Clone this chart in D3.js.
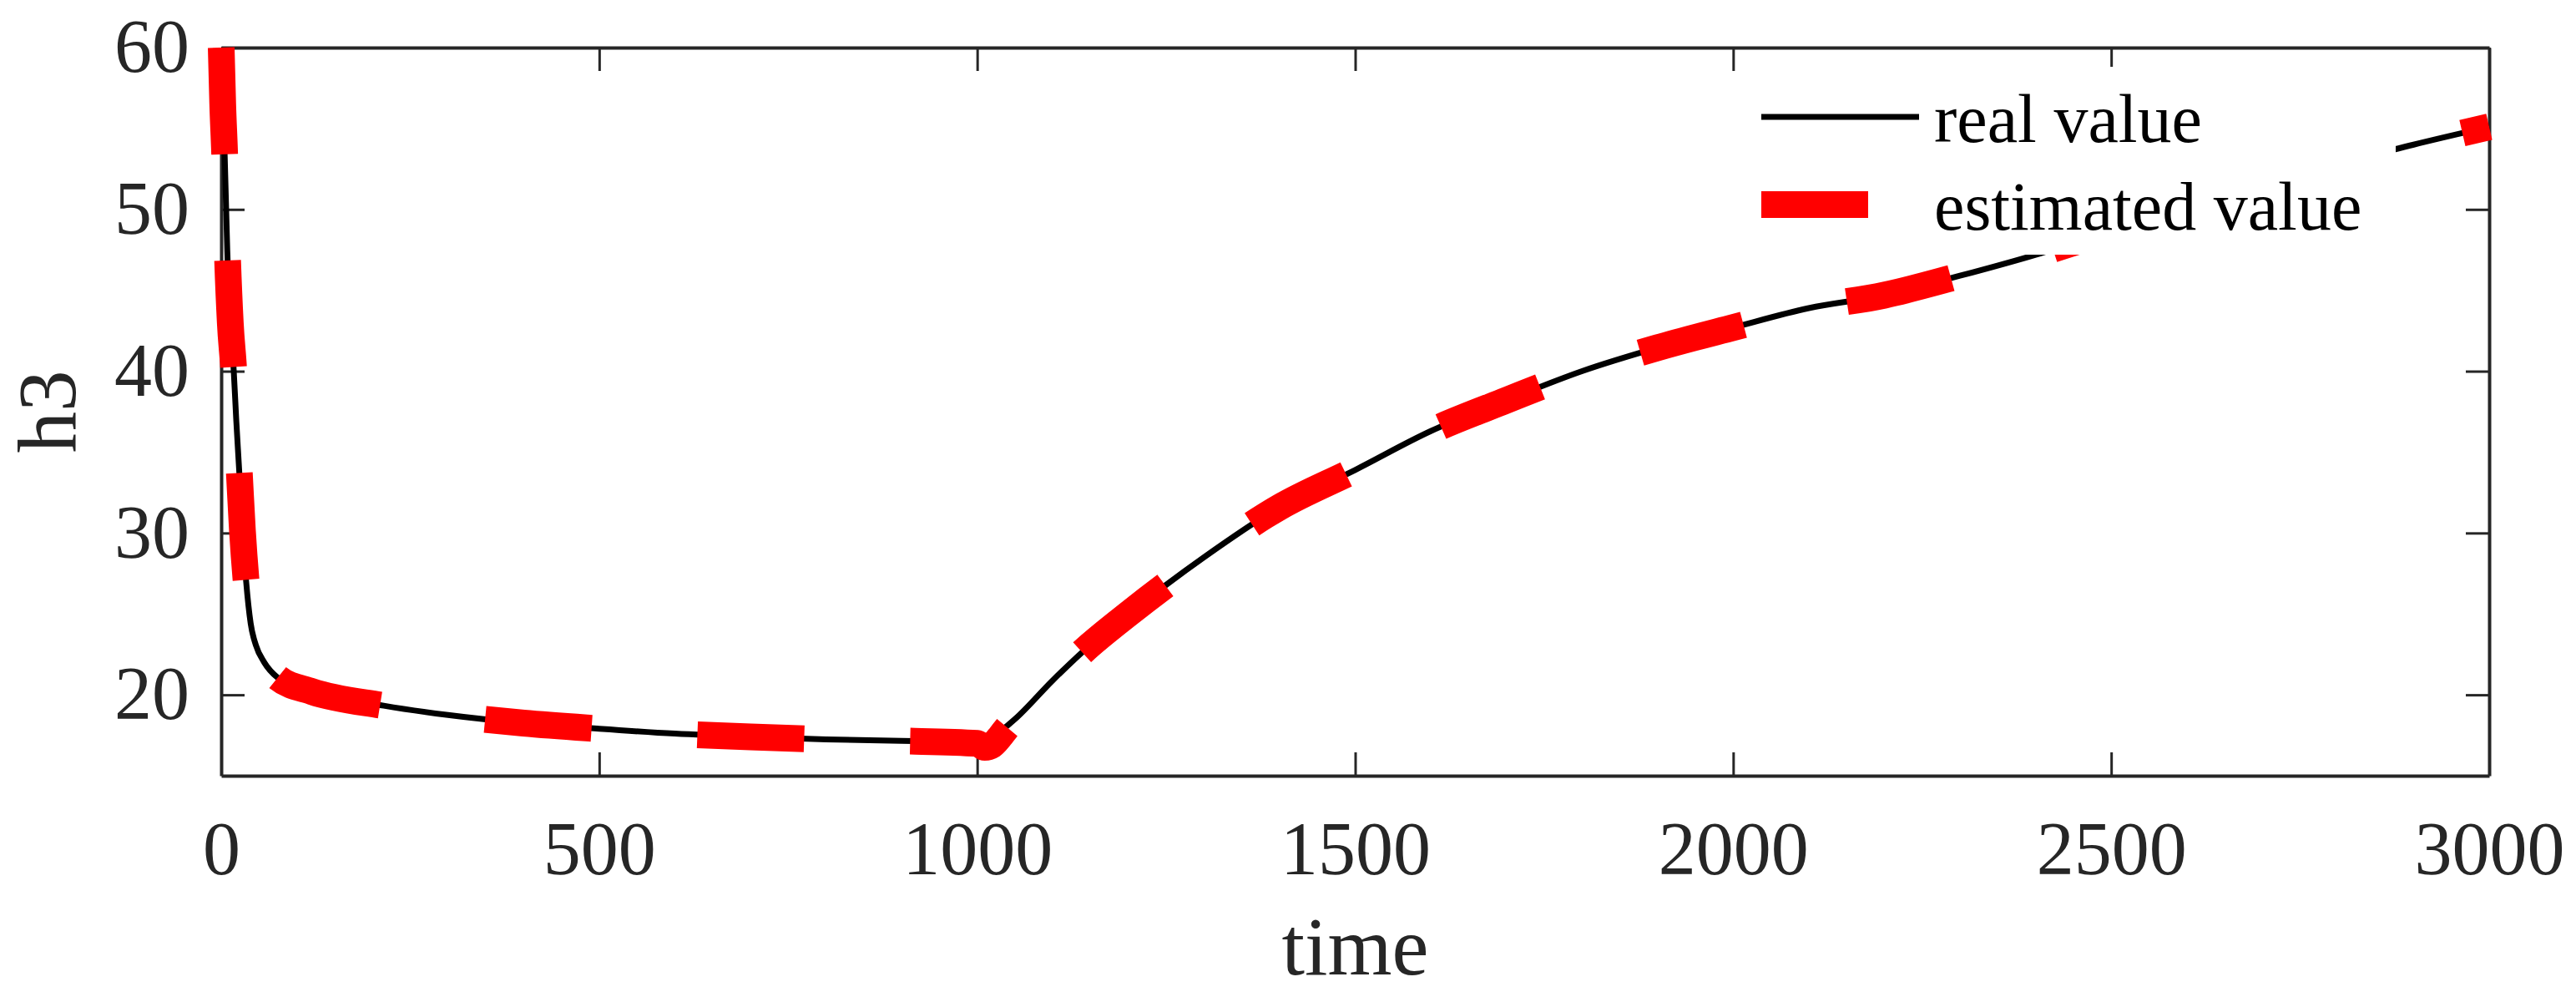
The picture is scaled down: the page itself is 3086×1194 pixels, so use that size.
<!DOCTYPE html>
<html>
<head>
<meta charset="utf-8">
<script src="https://cdn.jsdelivr.net/npm/d3@7"></script>
<style>
  body { margin: 0; background: #fff; }
  svg { display: block; font-family: "Liberation Serif", "Times New Roman", serif; }
</style>
</head>
<body>
<svg width="3086" height="1194"></svg>
<script>
// values
const timeVals = [0, 2, 4.5, 8, 12, 16.5, 20, 24, 28, 33, 39, 46, 57, 75, 120, 215, 300, 400, 500, 600, 700, 800, 900,
  1000, 1010, 1020, 1030, 1040, 1050, 1100, 1150, 1200, 1250, 1300, 1400, 1500, 1600, 1700, 1800, 1900,
  2000, 2100, 2200, 2300, 2400, 2500, 2600, 2700, 2800, 2900, 3000];
const realVals = [60, 56.5, 53.5, 47.5, 43, 40.1, 36.9, 33.7, 30.2, 27.0, 24.4, 23.05, 22.0, 21.05, 20.2, 19.33, 18.75, 18.25, 17.9, 17.6, 17.4, 17.25, 17.15,
  17.1, 17.25, 17.45, 17.75, 18.1, 18.5, 20.9, 23.1, 25.0, 26.8, 28.5, 31.6, 33.9, 36.3, 38.2, 40.0, 41.45,
  42.7, 43.9, 44.7, 45.9, 47.2, 48.7, 50.2, 51.6, 52.8, 54.0, 55.1];
const estVals = [60, 56.5, 53.5, 47.5, 43, 40.1, 36.9, 33.7, 30.2, 27.0, 24.4, 23.05, 22.0, 21.05, 20.2, 19.33, 18.75, 18.25, 17.9, 17.6, 17.4, 17.25, 17.15,
  17.0, 16.75, 16.9, 17.4, 18.0, 18.5, 20.9, 23.1, 25.0, 26.8, 28.5, 31.6, 33.9, 36.3, 38.2, 40.0, 41.45,
  42.7, 43.9, 44.7, 45.9, 47.2, 48.7, 50.2, 51.6, 52.8, 54.0, 55.1];
const xTicks = [0, 500, 1000, 1500, 2000, 2500, 3000];
const yTicks = [20, 30, 40, 50, 60];
const seriesNames = ["real value", "estimated value"];

const svg = d3.select("svg");
const margin = { top: 57, right: 104, bottom: 265, left: 265 };
const width = +svg.attr("width") - margin.left - margin.right;
const height = +svg.attr("height") - margin.top - margin.bottom;
const axisColor = "#262626";

const x = d3.scaleLinear().domain([0, 3000]).range([0, width]);
const y = d3.scaleLinear().domain([15, 60]).range([height, 0]);

const g = svg.append("g").attr("transform", `translate(${margin.left},${margin.top})`);

const styleAxis = sel => {
  sel.select(".domain").attr("stroke", axisColor).attr("stroke-width", 4);
  sel.selectAll(".tick line").attr("stroke", axisColor).attr("stroke-width", 3);
  sel.selectAll(".tick text").attr("fill", axisColor).attr("font-size", 90);
};

g.append("g")
  .attr("transform", `translate(0,${height})`)
  .call(d3.axisBottom(x).tickValues(xTicks).tickFormat(d3.format("d"))
    .tickSizeInner(-28).tickSizeOuter(0).tickPadding(54))
  .call(styleAxis)
  .attr("font-family", null);

g.append("g")
  .call(d3.axisTop(x).tickValues(xTicks).tickSizeInner(-28).tickSizeOuter(0).tickFormat(""))
  .call(styleAxis);

g.append("g")
  .call(d3.axisLeft(y).tickValues(yTicks).tickFormat(d3.format("d"))
    .tickSizeInner(-28).tickSizeOuter(0).tickPadding(38))
  .call(styleAxis)
  .attr("font-family", null);

g.append("g")
  .attr("transform", `translate(${width},0)`)
  .call(d3.axisRight(y).tickValues(yTicks).tickSizeInner(-28).tickSizeOuter(0).tickFormat(""))
  .call(styleAxis);

// axis titles
g.append("text")
  .attr("x", width / 2)
  .attr("y", 1167 - margin.top)
  .attr("text-anchor", "middle")
  .attr("font-size", 99)
  .attr("fill", axisColor)
  .text("time");

g.append("text")
  .attr("transform", `translate(${90 - margin.left},${height / 2}) rotate(-90)`)
  .attr("text-anchor", "middle")
  .attr("font-size", 99)
  .attr("fill", axisColor)
  .text("h3");

const line = vals => d3.line()
  .x((d, i) => x(timeVals[i]))
  .y(d => y(d))
  .curve(d3.curveMonotoneX)(vals);

g.append("path")
  .attr("d", line(realVals))
  .attr("fill", "none")
  .attr("stroke", "#000")
  .attr("stroke-width", 7);

g.append("path")
  .attr("d", line(estVals))
  .attr("fill", "none")
  .attr("stroke", "#ff0000")
  .attr("stroke-width", 32)
  .attr("stroke-dasharray", "128,127");

// legend (white box, no border)
const legend = g.append("g").attr("transform", `translate(${2080 - margin.left},${80 - margin.top})`);
legend.append("rect")
  .attr("width", 790)
  .attr("height", 225)
  .attr("fill", "#fff");

const items = [
  { name: seriesNames[0], color: "#000", w: 7, dash: null, cy: 60 },
  { name: seriesNames[1], color: "#ff0000", w: 32, dash: "128,127", cy: 165 }
];
items.forEach(it => {
  legend.append("line")
    .attr("x1", 30).attr("x2", 219)
    .attr("y1", it.cy).attr("y2", it.cy)
    .attr("stroke", it.color)
    .attr("stroke-width", it.w)
    .attr("stroke-dasharray", it.dash);
  legend.append("text")
    .attr("x", 237)
    .attr("y", it.cy + 30)
    .attr("font-size", 82)
    .attr("fill", "#000")
    .text(it.name);
});
</script>
</body>
</html>
